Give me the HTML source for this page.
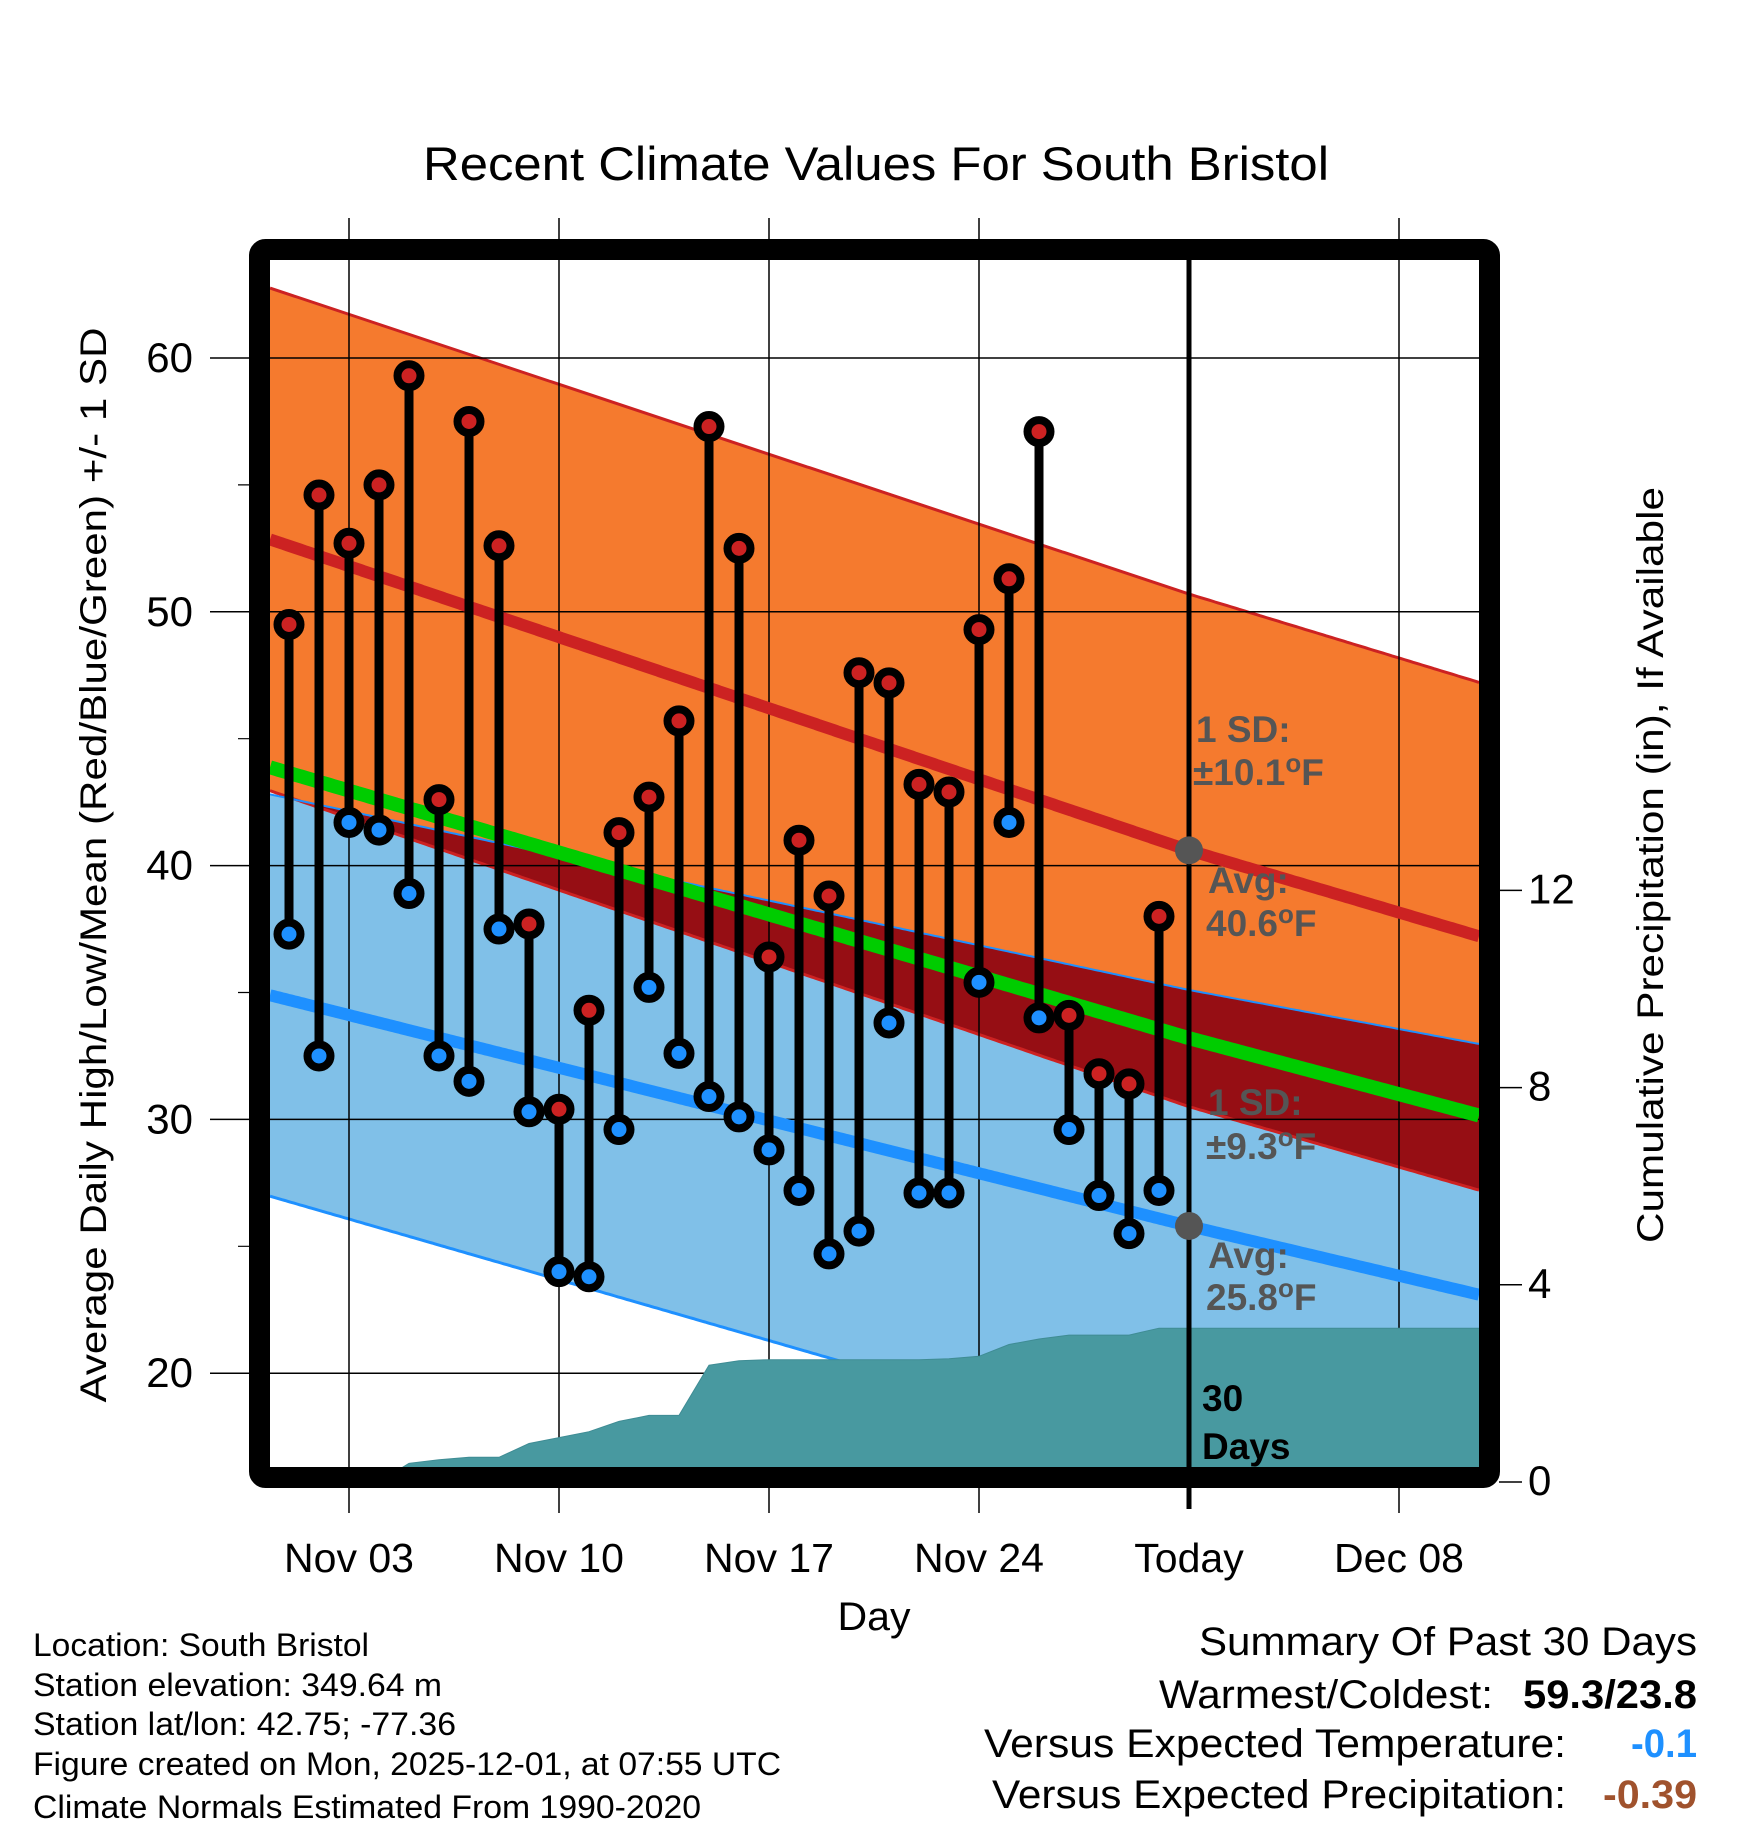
<!DOCTYPE html>
<html><head><meta charset="utf-8"><style>
html,body{margin:0;padding:0;background:#fff;}
svg{display:block;font-family:"Liberation Sans",sans-serif;}
</style></head><body>
<svg id="chart" width="1748" height="1828" viewBox="0 0 1748 1828" xmlns="http://www.w3.org/2000/svg">
<defs><clipPath id="plotclip"><rect x="270" y="260" width="1210" height="1208"/></clipPath></defs>
<g id="fills" clip-path="url(#plotclip)"></g>
<g id="grid"></g>
<g id="precip" clip-path="url(#plotclip)"></g>
<g id="means"></g>
<g id="labels" font-weight="bold" fill="#555" font-size="37"></g>
<g id="stems"></g>
<g id="frame"></g>
<g id="axes"></g>
<text x="876" y="180" font-size="47" text-anchor="middle" textLength="906" lengthAdjust="spacingAndGlyphs">Recent Climate Values For South Bristol</text>
<text transform="translate(106,865) rotate(-90)" font-size="37" text-anchor="middle" textLength="1075" lengthAdjust="spacingAndGlyphs">Average Daily High/Low/Mean (Red/Blue/Green) +/- 1 SD</text>
<text transform="translate(1663,865) rotate(-90)" font-size="37" text-anchor="middle" textLength="756" lengthAdjust="spacingAndGlyphs">Cumulative Precipitation (in), If Available</text>
<text x="874" y="1630" font-size="40" text-anchor="middle" textLength="73" lengthAdjust="spacingAndGlyphs">Day</text>
<g font-size="32">
<text x="33" y="1656" textLength="336" lengthAdjust="spacingAndGlyphs">Location: South Bristol</text>
<text x="33" y="1696" textLength="409" lengthAdjust="spacingAndGlyphs">Station elevation: 349.64 m</text>
<text x="33" y="1735" textLength="423" lengthAdjust="spacingAndGlyphs">Station lat/lon: 42.75; -77.36</text>
<text x="33" y="1775" textLength="748" lengthAdjust="spacingAndGlyphs">Figure created on Mon, 2025-12-01, at 07:55 UTC</text>
<text x="33" y="1818" textLength="668" lengthAdjust="spacingAndGlyphs">Climate Normals Estimated From 1990-2020</text>
</g>
<g font-size="40">
<text x="1697" y="1655" text-anchor="end" textLength="498" lengthAdjust="spacingAndGlyphs">Summary Of Past 30 Days</text>
<text x="1493" y="1708" text-anchor="end" textLength="334" lengthAdjust="spacingAndGlyphs">Warmest/Coldest:</text>
<text x="1697" y="1708" text-anchor="end" font-weight="bold" textLength="174" lengthAdjust="spacingAndGlyphs">59.3/23.8</text>
<text x="1566" y="1757" text-anchor="end" textLength="582" lengthAdjust="spacingAndGlyphs">Versus Expected Temperature:</text>
<text x="1697" y="1757" text-anchor="end" font-weight="bold" fill="#1e90ff" textLength="66" lengthAdjust="spacingAndGlyphs">-0.1</text>
<text x="1566" y="1808" text-anchor="end" textLength="574" lengthAdjust="spacingAndGlyphs">Versus Expected Precipitation:</text>
<text x="1697" y="1808" text-anchor="end" font-weight="bold" fill="#a0522d" textLength="94" lengthAdjust="spacingAndGlyphs">-0.39</text>
</g>
</svg>
<script>
// ---- data ----
const days = [1,2,3,4,5,6,7,8,9,10,11,12,13,14,15,16,17,18,19,20,21,22,23,24,25,26,27,28,29,30];
const highs = [49.5,54.6,52.7,55.0,59.3,42.6,57.5,52.6,37.7,30.4,34.3,41.3,42.7,45.7,57.3,52.5,36.4,41.0,38.8,47.6,47.2,43.2,42.9,49.3,51.3,57.1,34.1,31.8,31.4,38.0];
const lows = [37.3,32.5,41.7,41.4,38.9,32.5,31.5,37.5,30.3,24.0,23.8,29.6,35.2,32.6,30.9,30.1,28.8,27.2,24.7,25.6,33.8,27.1,27.1,35.4,41.7,34.0,29.6,27.0,25.5,27.2];
const precipCum = [0,0,0,0,0.38,0.45,0.5,0.5,0.78,0.9,1.02,1.23,1.35,1.35,2.37,2.46,2.48,2.48,2.48,2.48,2.48,2.48,2.5,2.55,2.79,2.9,2.98,2.98,2.98,3.12];
const normKnots = [0,31,41];
const highMean = [53.0,40.6,37.1];
const highSD = [9.9,10.1,10.0];
const lowMean = [35.0,25.8,23.0];
const lowSD = [7.9,9.3,9.9];
const yTicks = [20,30,40,50,60];
const yMinor = [25,35,45,55];
const pTicks = [0,4,8,12];
const xTickDays = [3,10,17,24,31,38];
const xTickLabels = ["Nov 03","Nov 10","Nov 17","Nov 24","Today","Dec 08"];
const todayDay = 31;

// ---- scales ----
const L=270,R=1480,T=260,B=1468;
const dMin=(L-349)/30+3, dMax=(R-349)/30+3;
const x = d => 349+(d-3)*30;
const y = v => 358+(60-v)*25.38;
const yp = p => 1482-p*49.3;
const NS="http://www.w3.org/2000/svg";
function mk(tag,attrs,parent){const e=document.createElementNS(NS,tag);for(const k in attrs)e.setAttribute(k,attrs[k]);parent.appendChild(e);return e;}
function interp(ks,vs,d){if(d<=ks[0])return vs[0]+(vs[1]-vs[0])*(d-ks[0])/(ks[1]-ks[0]);for(let i=0;i<ks.length-1;i++){if(d<=ks[i+1])return vs[i]+(vs[i+1]-vs[i])*(d-ks[i])/(ks[i+1]-ks[i]);}const n=ks.length;return vs[n-1]+(vs[n-1]-vs[n-2])*(d-ks[n-1])/(ks[n-1]-ks[n-2]);}
const samples=[];for(let d=dMin;d<=dMax+0.001;d+=0.1)samples.push(Math.min(d,dMax));
const hm=d=>interp(normKnots,highMean,d), hs=d=>interp(normKnots,highSD,d);
const lm=d=>interp(normKnots,lowMean,d), ls=d=>interp(normKnots,lowSD,d);
const pts=(f)=>samples.map(d=>x(d).toFixed(1)+","+y(f(d)).toFixed(1));
const band=(top,bot)=>pts(top).concat(pts(bot).reverse()).join(" ");

const fills=document.getElementById('fills');
mk('rect',{x:L,y:T,width:R-L,height:B-T,fill:'#fff'},fills);
let e;
e=mk('polygon',{points:band(d=>hm(d)+hs(d),d=>hm(d)-hs(d)),fill:'#f57a2e'},fills);

e=mk('polygon',{points:band(d=>lm(d)+ls(d),d=>lm(d)-ls(d)),fill:'#80c0e8'},fills);

e=mk('polygon',{points:band(d=>Math.max(lm(d)+ls(d),hm(d)-hs(d)),d=>hm(d)-hs(d)),fill:'#960e14'},fills);

[[d=>hm(d)+hs(d),'#cc2222',3],[d=>hm(d)-hs(d),'#cc2222',3],[d=>lm(d)+ls(d),'#1e90ff',2],[d=>lm(d)-ls(d),'#1e90ff',3]].forEach(([f,c,w])=>{
  e=mk('polyline',{points:pts(f).join(" "),fill:'none',stroke:c,'stroke-width':w},fills);
  
});

const grid=document.getElementById('grid');
yTicks.forEach(v=>{e=mk('line',{x1:210,x2:R,y1:y(v),y2:y(v),stroke:'#000','stroke-width':1.5},grid);
 });
yMinor.forEach(v=>{e=mk('line',{x1:238,x2:255,y1:y(v),y2:y(v),stroke:'#000','stroke-width':1.2},grid);
 });
xTickDays.forEach(d=>{ if(d===todayDay)return;
 e=mk('line',{x1:x(d),x2:x(d),y1:218,y2:1513,stroke:'#000','stroke-width':1.5},grid);
 });

const pg=document.getElementById('precip');
const pp=[[x(dMin),yp(0)],[x(0),yp(0)]];
days.forEach((d,i)=>pp.push([x(d),yp(precipCum[i])]));
pp.push([x(dMax),yp(precipCum[precipCum.length-1])]);pp.push([x(dMax),yp(0)]);
e=mk('polygon',{points:pp.map(p=>p[0].toFixed(1)+","+p[1].toFixed(1)).join(" "),fill:'#4899a0',stroke:'#3f8c94','stroke-width':1},pg);


const means=document.getElementById('means');
[[hm,'#cc2222',12,'high-mean-line'],[d=>(hm(d)+lm(d))/2,'#00cc00',14,'mean-line'],[lm,'#1e90ff',12,'low-mean-line']].forEach(([f,c,w,n])=>{
 e=mk('polyline',{points:pts(f).join(" "),fill:'none',stroke:c,'stroke-width':w},means);
 
});
e=mk('line',{x1:x(todayDay),x2:x(todayDay),y1:T,y2:1509,stroke:'#000','stroke-width':5},means);

[hm,lm].forEach(f=>{e=mk('circle',{cx:x(todayDay),cy:y(f(todayDay)),r:14,fill:'#555'},means);
 });

const lab=document.getElementById('labels');
function txt(s,xx,yy,parent,name,fill){const t=mk('text',{x:xx,y:yy},parent);if(fill)t.setAttribute('fill',fill);t.innerHTML=s;return t;}
const deg='<tspan dy="-13" font-size="26">o</tspan><tspan dy="13">F</tspan>';
const tx=x(todayDay);
txt('1 SD:',tx+7,742,lab,'high-sd-label');
txt('±'+(highSD[1]).toFixed(1)+deg,tx+4,785,lab,'high-sd-value');
txt('Avg:',tx+19,893,lab,'high-avg-label');
txt(hm(todayDay).toFixed(1)+deg,tx+17,936,lab,'high-avg-value');
txt('1 SD:',tx+19,1115,lab,'low-sd-label');
txt('±'+(lowSD[1]).toFixed(1)+deg,tx+17,1159,lab,'low-sd-value');
txt('Avg:',tx+19,1268,lab,'low-avg-label');
txt(lm(todayDay).toFixed(1)+deg,tx+17,1310,lab,'low-avg-value');
txt('30',tx+13,1411,lab,'days-count-label','#000');
txt('Days',tx+13,1459,lab,'days-word-label','#000');

const st=document.getElementById('stems');
days.forEach((d,i)=>{
 e=mk('line',{x1:x(d),x2:x(d),y1:y(highs[i]),y2:y(lows[i]),stroke:'#000','stroke-width':9},st);
 
});
days.forEach((d,i)=>{
 e=mk('circle',{cx:x(d),cy:y(highs[i]),r:11.5,fill:'#cc2222',stroke:'#000','stroke-width':8},st);
 
 e=mk('circle',{cx:x(d),cy:y(lows[i]),r:11.5,fill:'#1e90ff',stroke:'#000','stroke-width':8},st);
 
});

const fr=document.getElementById('frame');
e=mk('rect',{x:259.5,y:249.5,width:1230,height:1228,fill:'none',stroke:'#000','stroke-width':21,rx:6},fr);


const ax=document.getElementById('axes');
yTicks.forEach(v=>{const t=txt(String(v),193,y(v)+14,ax,'y-tick-label');t.setAttribute('text-anchor','end');t.setAttribute('font-size','42');});
pTicks.forEach(p=>{
 e=mk('line',{x1:1499,x2:1522,y1:yp(p),y2:yp(p),stroke:'#000','stroke-width':1.5},ax);
 
 const t=txt(String(p),1528,yp(p)+13,ax,'right-tick-label');t.setAttribute('font-size','42');});
xTickDays.forEach((d,i)=>{const t=txt(xTickLabels[i],x(d),1572,ax,'x-tick-label');t.setAttribute('text-anchor','middle');t.setAttribute('font-size','41');});
</script>
</body></html>
